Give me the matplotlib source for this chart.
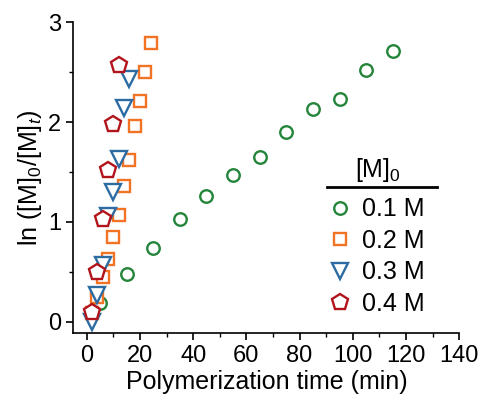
import matplotlib
matplotlib.use("Agg")
import matplotlib.pyplot as plt
from matplotlib.lines import Line2D
from matplotlib.ticker import MultipleLocator

plt.rcParams['font.family'] = ['Liberation Sans', 'DejaVu Sans']
plt.rcParams['mathtext.fontset'] = 'custom'
plt.rcParams['mathtext.rm'] = 'Liberation Sans'
plt.rcParams['mathtext.it'] = 'Liberation Sans:italic'

# Kinetic data: ln([M]0/[M]t) vs polymerization time for each initial monomer concentration
t_01 = [5, 15, 25, 35, 45, 55, 65, 75, 85, 95, 105, 115]
y_01 = [0.19, 0.48, 0.74, 1.03, 1.26, 1.47, 1.65, 1.90, 2.13, 2.23, 2.52, 2.71]

t_02 = [2, 4, 6, 8, 10, 12, 14, 16, 18, 20, 22, 24]
y_02 = [0.09, 0.25, 0.45, 0.63, 0.85, 1.07, 1.36, 1.62, 1.96, 2.21, 2.50, 2.79]

t_03 = [2, 4, 6, 8, 10, 12, 14, 16]
y_03 = [0.00, 0.27, 0.57, 1.06, 1.30, 1.63, 2.14, 2.43]

t_04 = [2, 4, 6, 8, 10, 12]
y_04 = [0.10, 0.50, 1.03, 1.52, 1.98, 2.57]

labels = ['0.1 M', '0.2 M', '0.3 M', '0.4 M']
colors = ['#23843a', '#f37325', '#2c6ca3', '#b2141c']
markers = ['o', 's', 'v', 'p']
sizes = [9, 8.5, 11, 12]

fig = plt.figure(figsize=(4.86, 4.03), dpi=100)
ax = fig.add_axes([0.151, 0.174, 0.794, 0.771])

series = [(t_01, y_01), (t_02, y_02), (t_03, y_03), (t_04, y_04)]
for (t, y), lab, c, m, s in zip(series, labels, colors, markers, sizes):
    ax.plot(t, y, linestyle='none', marker=m, markersize=s,
            markerfacecolor='white', markeredgecolor=c, markeredgewidth=1.7,
            label=lab)

ax.set_xlim(-5, 140)
ax.set_ylim(-0.11, 3)
ax.xaxis.set_major_locator(MultipleLocator(20))
ax.xaxis.set_minor_locator(MultipleLocator(10))
ax.yaxis.set_major_locator(MultipleLocator(1))
ax.yaxis.set_minor_locator(MultipleLocator(0.5))

for side in ('top', 'right'):
    ax.spines[side].set_visible(False)
for side in ('left', 'bottom'):
    ax.spines[side].set_linewidth(1.2)

ax.tick_params(which='major', direction='out', length=5, width=1.2, labelsize=17, pad=4)
ax.tick_params(which='minor', direction='out', length=3, width=1.0)

ax.set_xlabel('Polymerization time (min)', fontsize=18, labelpad=2)
ax.set_ylabel(r'ln ([M]$_0$/[M]$_t$)', fontsize=18, labelpad=3)

leg = ax.legend(loc='upper left', bbox_to_anchor=(0.632, 0.468), frameon=False,
                fontsize=18, handletextpad=0.4, labelspacing=0.3,
                handlelength=1.0, borderaxespad=0)

ax.text(0.79, 0.525, r'[M]$_0$', transform=ax.transAxes, fontsize=18,
        ha='center', va='center')
ax.add_line(Line2D([0.657, 0.942], [0.47, 0.47], transform=ax.transAxes,
                   color='black', linewidth=2, clip_on=False))

fig.savefig('out.png', dpi=100)
